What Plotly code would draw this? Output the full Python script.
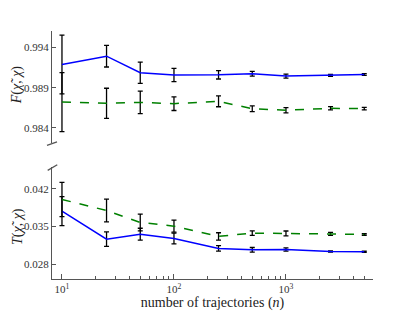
import plotly.graph_objects as go
from plotly.subplots import make_subplots

n_traj = [10, 25, 50, 100, 250, 500, 1000, 2500, 5000]

F_blue = [0.99188, 0.99291, 0.99085, 0.99057, 0.9906, 0.99073, 0.99044, 0.99052, 0.99064]
F_blue_err = [0.00366, 0.00134, 0.00132, 0.00082, 0.00052, 0.0003, 0.00025, 0.00012, 0.0001]
F_green = [0.98721, 0.98706, 0.98717, 0.98702, 0.98731, 0.98638, 0.9862, 0.98644, 0.9864]
F_green_err = [0.00366, 0.00187, 0.0014, 0.00085, 0.00068, 0.00035, 0.00033, 0.0002, 0.00015]

T_blue = [0.03783, 0.03265, 0.03357, 0.03278, 0.03093, 0.03067, 0.03074, 0.03037, 0.0303]
T_blue_err = [0.00269, 0.00133, 0.0011, 0.001, 0.00052, 0.00043, 0.0003, 0.00012, 0.0001]
T_green = [0.0400, 0.03796, 0.03574, 0.03506, 0.03315, 0.03376, 0.0337, 0.03364, 0.03352]
T_green_err = [0.00317, 0.0021, 0.00155, 0.0011, 0.00068, 0.00043, 0.00046, 0.00028, 0.00015]

F_ticks = [0.984, 0.989, 0.994]
T_ticks = [0.028, 0.035, 0.042]
x_ticks = [10, 100, 1000]
x_ticktext = ["10<sup>1</sup>", "10<sup>2</sup>", "10<sup>3</sup>"]

F_title = "<i>F</i>(<i>\u03c7\u0303</i>, <i>\u03c7</i>)"
T_title = "<i>T</i>(<i>\u03c7\u0303</i>, <i>\u03c7</i>)"
x_title = "number of trajectories (<i>n</i>)"

FONT = "Liberation Serif"
AX = "#555555"

fig = make_subplots(rows=2, cols=1, shared_xaxes=True, vertical_spacing=0.0)

def add(row, y, err, color, dash):
    fig.add_trace(go.Scatter(
        x=n_traj, y=y, mode="lines",
        line=dict(color=color, width=1.5, dash=dash),
        error_y=dict(type="data", array=err, visible=True, color="black",
                     thickness=1.3, width=2.5),
        showlegend=False), row=row, col=1)

add(1, F_blue, F_blue_err, "#0000ff", "solid")
add(1, F_green, F_green_err, "#008000", "dash")
add(2, T_blue, T_blue_err, "#0000ff", "solid")
add(2, T_green, T_green_err, "#008000", "dash")

tickfont = dict(family=FONT, size=11, color="#333333")

# page body has an 8px default margin, so the figure is offset by 8px
fig.update_layout(
    width=407, height=304,
    margin=dict(l=44, r=42, t=23, b=32.5),
    paper_bgcolor="white", plot_bgcolor="white",
    font=dict(family=FONT, color="#222222"),
)

fig.update_xaxes(type="log", range=[0.911, 3.777], showgrid=False, zeroline=False,
                 automargin=False)
fig.update_xaxes(row=1, col=1, showline=False, ticks="", showticklabels=False)
fig.update_xaxes(row=2, col=1, showline=True, linecolor=AX, linewidth=1.3,
                 ticks="inside", ticklen=5, tickcolor=AX,
                 tickvals=x_ticks, ticktext=x_ticktext, tickfont=tickfont,
                 minor=dict(ticks="inside", ticklen=2.5, tickcolor=AX, showgrid=False,
                            tickvals=[20, 30, 40, 50, 60, 70, 80, 90,
                                      200, 300, 400, 500, 600, 700, 800, 900,
                                      2000, 3000, 4000, 5000]),
                 title=dict(text=x_title,
                            font=dict(family=FONT, size=14, color="#222222"), standoff=0))

fig.update_yaxes(showgrid=False, zeroline=False, showline=True, linecolor=AX,
                 linewidth=1.3, ticks="inside", ticklen=4, tickcolor=AX,
                 tickfont=tickfont, automargin=False)
fig.update_yaxes(row=1, col=1, domain=[0.549, 1.0], range=[0.98215, 0.99604],
                 tickvals=F_ticks, ticktext=[f"{v:.3f}" for v in F_ticks])
fig.update_yaxes(row=2, col=1, domain=[0.0, 0.4527], range=[0.02526, 0.04607],
                 tickvals=T_ticks, ticktext=[f"{v:.3f}" for v in T_ticks])

# y-axis titles
for txt, yp in [(F_title, 0.7827), (T_title, 0.211)]:
    fig.add_annotation(text=txt, xref="paper", yref="paper", x=-0.108, y=yp,
                       xanchor="center", yanchor="middle", textangle=-90,
                       showarrow=False, font=dict(family=FONT, size=14, color="#222222"))

# broken-axis marks
fig.add_shape(type="line", xref="paper", yref="paper", x0=-0.0156, y0=0.539,
              x1=0.0156, y1=0.5533, line=dict(color=AX, width=1.3))
fig.add_shape(type="line", xref="paper", yref="paper", x0=-0.0134, y0=0.4378,
              x1=0.0165, y1=0.4608, line=dict(color=AX, width=1.3))

fig.write_html("out.html")
